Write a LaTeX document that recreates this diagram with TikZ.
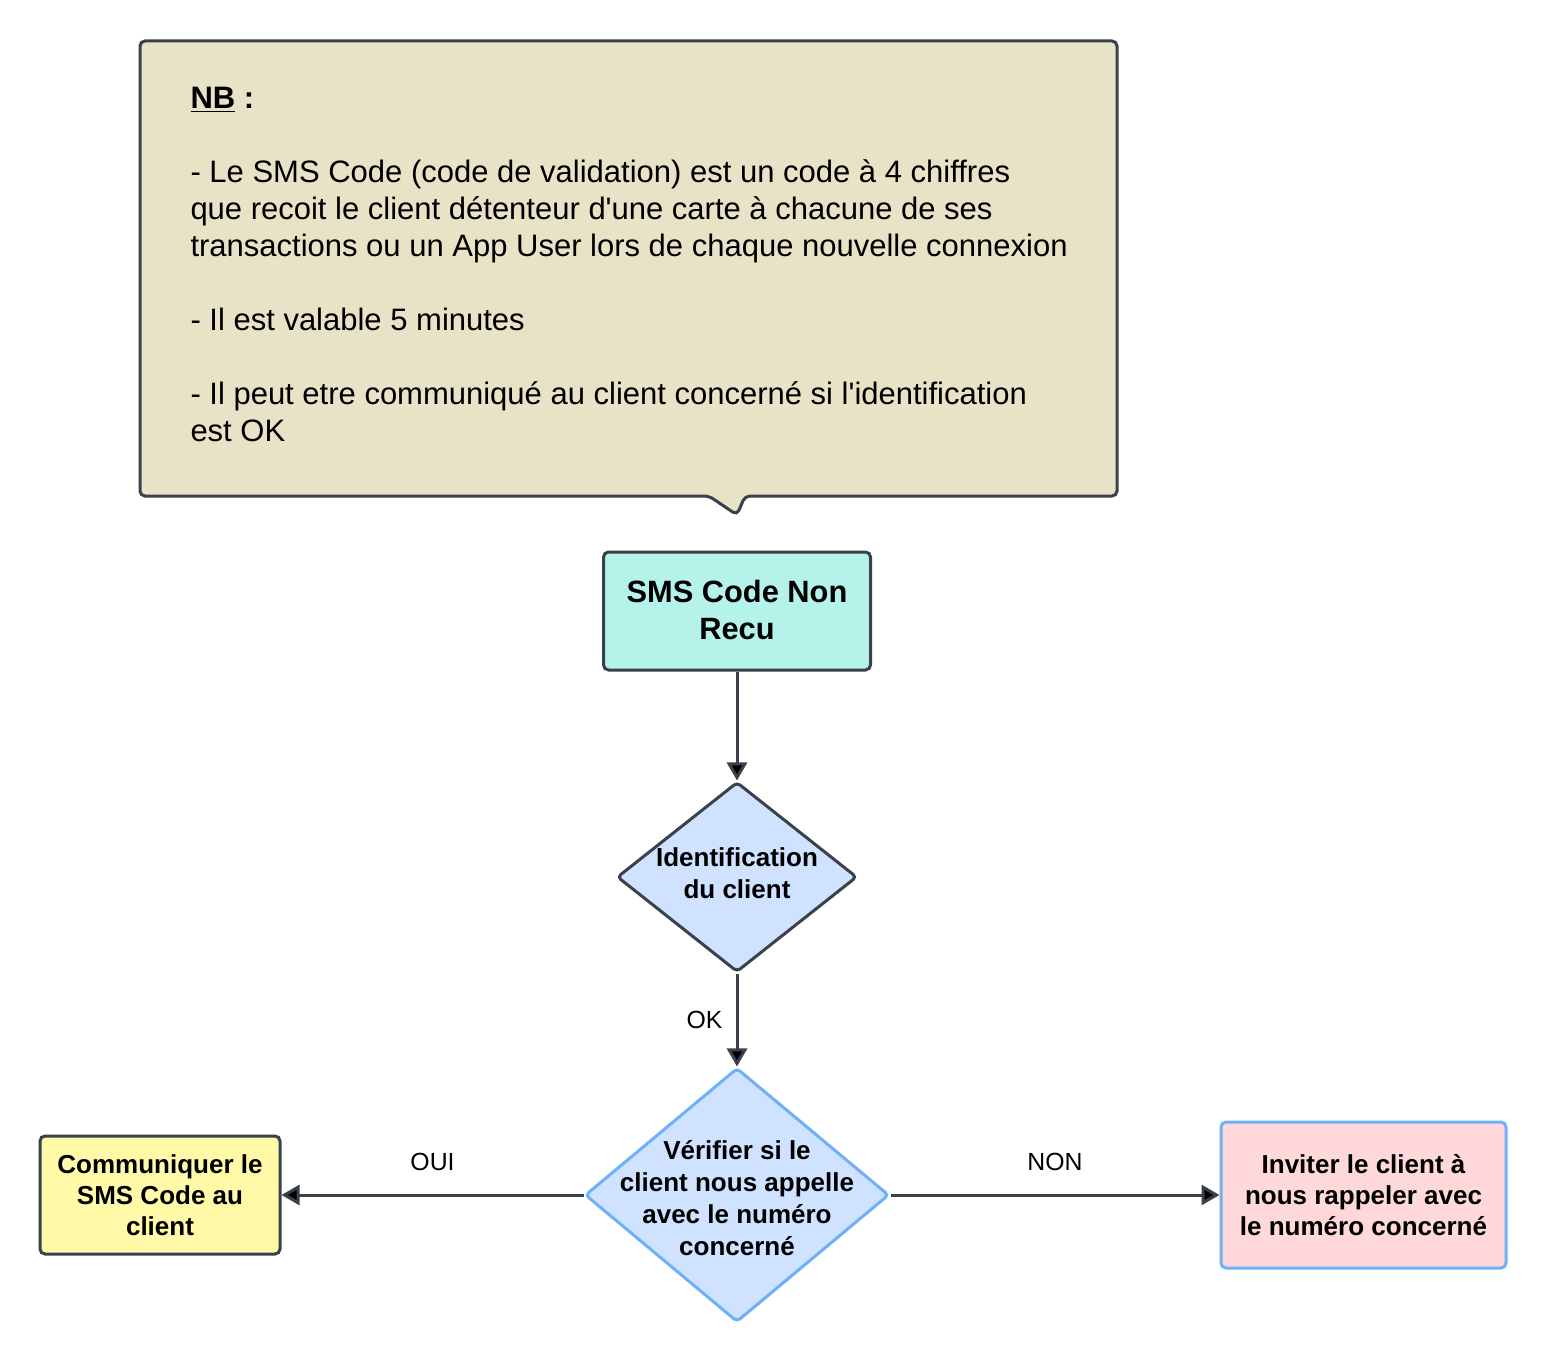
\documentclass[tikz,border=0pt]{standalone}
\usepackage{fontspec}
\setmainfont{Liberation Sans}
\usepackage{tikz}
\usetikzlibrary{arrows.meta,shapes.geometric,positioning}
\definecolor{edgegray}{HTML}{3A414A}
\definecolor{notebg}{HTML}{E8E2C7}
\definecolor{startbg}{HTML}{B5F2EA}
\definecolor{decbg}{HTML}{CFE2FF}
\definecolor{decline}{HTML}{6FB0F7}
\definecolor{yesbg}{HTML}{FFF9A8}
\definecolor{nobg}{HTML}{FFD9D9}

\begin{document}
\begin{tikzpicture}[x=0.5pt,y=-0.5pt,>={Triangle[length=9pt,width=10pt]},line width=1.5pt,
  box/.style={draw=edgegray,rounded corners=2.5pt,align=center,inner sep=0pt,font=\fontsize{13}{15.5}\selectfont\bfseries},
  test/.style={diamond,draw=edgegray,fill=decbg,rounded corners=2pt,inner sep=0pt},
  txt/.style={font=\fontsize{13}{16}\selectfont\bfseries,align=center},
  lbl/.style={font=\fontsize{12.4}{14}\selectfont,inner sep=0pt}]
  \useasboundingbox (0,0) rectangle (1548,1364);
  % note
  \draw[edgegray,fill=notebg,rounded corners=2.5pt] (140,41) -- (1117,41) -- (1117,496) -- (745,496)
    -- (737,515) -- (709,496) -- (140,496) -- cycle;
  \node[anchor=north west,inner sep=0pt,align=left,font=\fontsize{15.5}{18.5}\selectfont] (nb) at (189,86)
    {\underline{\textbf{NB}} \textbf{:}\\[18.5pt]
     - Le SMS Code (code de validation) est un code à 4 chiffres\\
     que recoit le client détenteur d\textquotesingle une carte à chacune de ses\\
     transactions ou un App User lors de chaque nouvelle connexion\\[18.5pt]
     - Il est valable 5 minutes\\[18.5pt]
     - Il peut etre communiqué au client concerné si l\textquotesingle identification\\
     est OK};

  \node[box,fill=startbg,minimum width=133.5pt,minimum height=59pt,font=\fontsize{15.4}{18.5}\selectfont\bfseries] (sms) at (737,611) {\raisebox{1.5pt}{SMS Code Non}\\\raisebox{1.5pt}{Recu}};
  \node[test,minimum width=120pt,minimum height=95pt,label={[txt,yshift=2pt]center:Identification\\du client}] (ident) at (737,877) {};
  \node[test,draw=decline,minimum width=152pt,minimum height=127pt,label={[txt,yshift=-1.5pt]center:Vérifier si le\\client nous appelle\\avec le numéro\\concerné}] (verif) at (737,1195) {};
  \node[box,fill=yesbg,minimum width=120pt,minimum height=59pt] (comm) at (160,1195) {Communiquer le\\SMS Code au\\client};
  \node[box,draw=decline,fill=nobg,minimum width=142.5pt,minimum height=73pt] (invit) at (1363.5,1195) {Inviter le client à\\nous rappeler avec\\le numéro concerné};

  \path[->,draw=edgegray] (sms) edge (ident)
        (ident) edge node[lbl,left=6.5pt] {OK} (verif)
        (verif) edge node[lbl,above=11.5pt] {OUI} (comm)
                edge node[lbl,above=11.5pt] {NON} (invit);
\end{tikzpicture}
\end{document}
